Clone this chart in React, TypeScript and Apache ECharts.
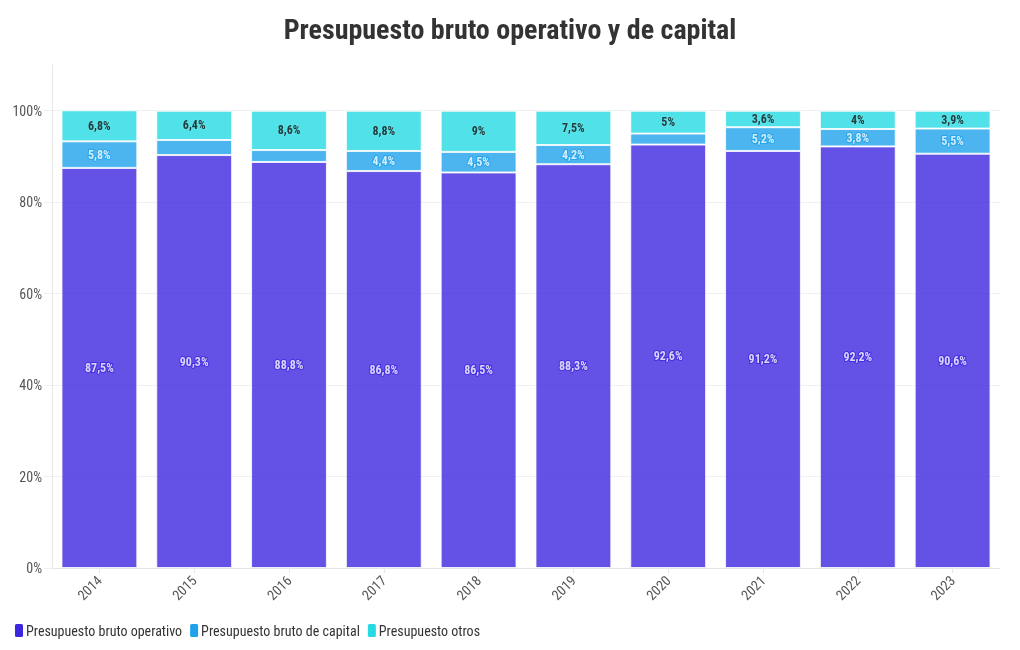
import React, { useEffect, useRef } from "react";
import * as echarts from "echarts";

const years = ["2014", "2015", "2016", "2017", "2018", "2019", "2020", "2021", "2022", "2023"];
const operativo = [87.5, 90.3, 88.8, 86.8, 86.5, 88.3, 92.6, 91.2, 92.2, 90.6];
const capital = [5.8, 3.3, 2.6, 4.4, 4.5, 4.2, 2.4, 5.2, 3.8, 5.5];
const otros = [6.8, 6.4, 8.6, 8.8, 9, 7.5, 5, 3.6, 4, 3.9];
const yTicks = [0, 20, 40, 60, 80, 100];

const FONT = "'Roboto Condensed', 'Liberation Sans Narrow', 'DejaVu Sans Condensed', Roboto, sans-serif";

const fmt = (v: number) => String(v).replace(".", ",") + "%";

export default function App() {
  const ref = useRef<HTMLDivElement>(null);
  useEffect(() => {
    const chart = echarts.init(ref.current!, null, { renderer: "svg" });
    const mkSeries = (name: string, data: number[], color: string, labelColor: string, borderColor: string) => ({
      name,
      type: "bar",
      stack: "total",
      barWidth: "80%",
      data,
      itemStyle: { color, opacity: 0.8, borderColor: "#ffffff", borderWidth: 1 },
      label: {
        show: true,
        position: "inside",
        fontFamily: FONT,
        fontWeight: "bold",
        fontSize: 12,
        color: labelColor,
        textBorderColor: borderColor,
        textBorderWidth: 2,
        formatter: (p: any) => (p.value < 3.5 ? "" : fmt(p.value)),
      },
    });
    chart.setOption({
      animation: false,
      textStyle: { fontFamily: FONT },
      title: {
        text: "Presupuesto bruto operativo y de capital",
        left: "center",
        top: 10,
        textStyle: { fontFamily: FONT, fontSize: 28, fontWeight: "bold", color: "#333" },
      },
      legend: {
        left: 8,
        bottom: 6,
        icon: "roundRect",
        itemWidth: 10,
        itemHeight: 15,
        itemGap: 6,
        itemStyle: { opacity: 1 },
        textStyle: { fontFamily: FONT, fontSize: 14, color: "#333", padding: [0, 0, 0, -3] },
        data: ["Presupuesto bruto operativo", "Presupuesto bruto de capital", "Presupuesto otros"],
      },
      grid: { left: 52, right: 20, top: 65, bottom: 82 },
      xAxis: {
        type: "category",
        data: years,
        axisLine: { lineStyle: { color: "#e6e6e6" } },
        axisTick: { show: true, alignWithLabel: true, length: 5, lineStyle: { color: "#e6e6e6" } },
        axisLabel: { rotate: 45, fontFamily: FONT, fontSize: 14, color: "#555", margin: 10 },
      },
      yAxis: {
        type: "value",
        min: 0,
        max: 110,
        interval: 20,
        axisLine: { show: true, lineStyle: { color: "#e6e6e6" } },
        axisTick: { show: true, length: 8, lineStyle: { color: "#eeeeee" } },
        axisLabel: {
          fontFamily: FONT,
          fontSize: 14,
          color: "#555",
          margin: 10,
          showMaxLabel: false,
          formatter: (v: number) => (yTicks.includes(v) ? v + "%" : ""),
        },
        splitLine: { show: true, showMaxLine: false, lineStyle: { color: "#f0f0f0" } },
      },
      series: [
        mkSeries("Presupuesto bruto operativo", operativo, "#3D26E0", "#ffffff", "#3D26E0"),
        mkSeries("Presupuesto bruto de capital", capital, "#1FA2EB", "#ffffff", "#1FA2EB"),
        mkSeries("Presupuesto otros", otros, "#26D9E3", "#111111", "#5fe3ea"),
      ],
    });
    return () => chart.dispose();
  }, []);
  return <div ref={ref} style={{ position: "fixed", left: 0, top: 0, width: 1020, height: 650 }} />;
}
